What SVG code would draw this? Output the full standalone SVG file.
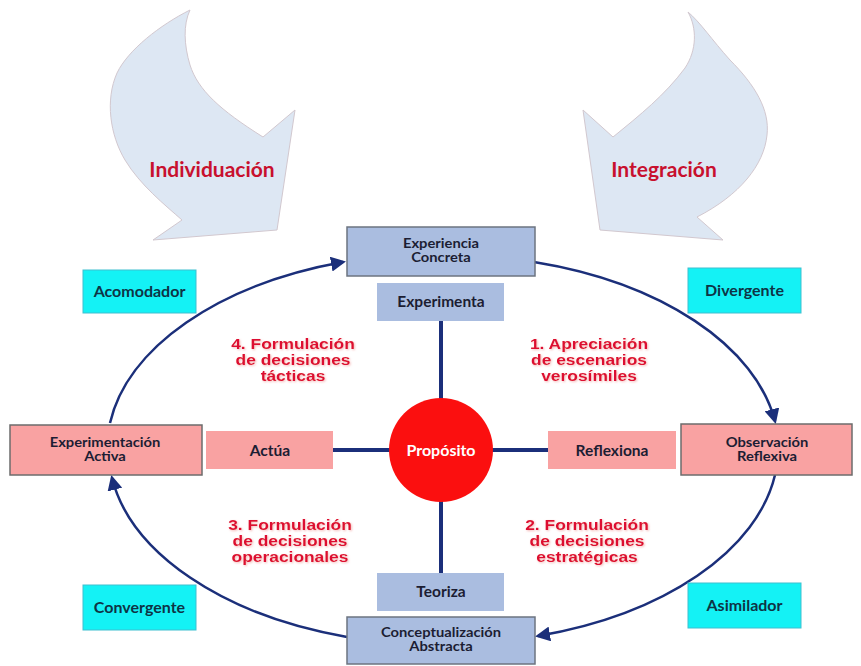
<svg xmlns="http://www.w3.org/2000/svg" width="861" height="666" viewBox="0 0 861 666">
  <defs>
    <marker id="arrowhead" viewBox="0 0 10 10" refX="8" refY="5" markerWidth="6" markerHeight="6" markerUnits="strokeWidth" orient="auto">
      <path d="M0,0 L10,5 L0,10 Z" fill="#1b2f7a"/>
    </marker>
    <filter id="soft" x="-10%" y="-20%" width="120%" height="140%">
      <feGaussianBlur in="SourceAlpha" stdDeviation="0.8" result="b"/>
      <feOffset dx="0.6" dy="0.6" result="o"/>
      <feFlood flood-color="#e88" flood-opacity="0.6"/>
      <feComposite in2="o" operator="in" result="s"/>
      <feMerge><feMergeNode in="s"/><feMergeNode in="SourceGraphic"/></feMerge>
    </filter>
  </defs>
  <style>
    .bigarrow { fill: #dde7f3; stroke: #d2c8cf; stroke-width: 1; }
    .phase { fill: #aabde0; stroke: #6c7480; stroke-width: 1.5; }
    .verb { fill: #aabde0; }
    .actbox { fill: #f9a2a2; stroke: #6c6c6c; stroke-width: 1.5; }
    .actverb { fill: #f9a2a2; }
    .style { fill: #14f2f5; stroke: #3fbfcf; stroke-width: 1; }
    .lbl { font-family: Lato, "Open Sans", sans-serif; font-weight: bold; font-size: 15.5px; text-anchor: middle; fill: #1c1d33; }
    .lbl2 { font-family: Lato, "Open Sans", sans-serif; font-weight: bold; font-size: 12.5px; text-anchor: middle; fill: #1c1d33; }
    .lblstyle { font-family: Lato, "Open Sans", sans-serif; font-weight: bold; font-size: 16px; text-anchor: middle; fill: #0e3445; }
    .center { font-family: Lato, "Open Sans", sans-serif; font-weight: bold; font-size: 16px; text-anchor: middle; fill: #ffffff; }
    .flow { font-family: Lato, "Open Sans", sans-serif; font-weight: bold; font-size: 21px; text-anchor: middle; fill: #c8102e; }
    .step { font-family: "Liberation Sans", Arial, sans-serif; font-weight: bold; font-size: 14.5px; text-anchor: middle; fill: #dd1030; }
    .cycle { fill: none; stroke: #1b2f7a; stroke-width: 2.5; }
    .spoke { stroke: #1b2f7a; stroke-width: 4; }
  </style>

  <!-- curved block arrows -->
  <g id="individuacion">
    <path class="bigarrow" d="M190,10 C183,25 184,45 190,65 C198,90 220,110 263,137 L295,110 L277,230 L153,240 L182,220 C165,205 140,185 125,160 C110,135 105,100 117,73 C128,50 160,25 190,10 Z"/>
    <text class="flow" x="212" y="177">Individuación</text>
  </g>
  <g id="integracion">
    <path class="bigarrow" d="M688,12 C700,22 712,40 730,60 C755,85 770,110 767,135 C764,165 740,195 697,217 L723,240 L600,230 L583,110 L613,137 C640,115 665,95 685,68 C697,50 697,28 688,12 Z"/>
    <text class="flow" x="664" y="177">Integración</text>
  </g>

  <!-- learning cycle and cross -->
  <g id="connectors">
    <path class="cycle" d="M110,423 A334,196 0 0 1 343,262" marker-end="url(#arrowhead)"/>
    <path class="cycle" d="M534,262 A334,196 0 0 1 775,421" marker-end="url(#arrowhead)"/>
    <path class="cycle" d="M775,475 A334,196 0 0 1 538,636" marker-end="url(#arrowhead)"/>
    <path class="cycle" d="M347,637 A334,196 0 0 1 112,478" marker-end="url(#arrowhead)"/>
    <line class="spoke" x1="441" y1="321" x2="441" y2="573"/>
    <line class="spoke" x1="333" y1="450" x2="548" y2="450"/>
  </g>

  <g id="proposito">
    <circle cx="441" cy="450" r="52" fill="#fb0f0f"/>
    <text class="center" x="441" y="456">Propósito</text>
  </g>

  <!-- cycle phases (two-line labels, widened horizontally) -->
  <g id="experiencia-concreta">
    <rect class="phase" x="347" y="227" width="188" height="49"/>
    <g transform="translate(441 0) scale(1.18 1)">
      <text class="lbl2" x="0" y="248">Experiencia</text>
      <text class="lbl2" x="0" y="262">Concreta</text>
    </g>
  </g>
  <g id="observacion-reflexiva">
    <rect class="actbox" x="681" y="424" width="171" height="51"/>
    <g transform="translate(767 0) scale(1.18 1)">
      <text class="lbl2" x="0" y="447">Observación</text>
      <text class="lbl2" x="0" y="461">Reflexiva</text>
    </g>
  </g>
  <g id="conceptualizacion-abstracta">
    <rect class="phase" x="347" y="617" width="188" height="47"/>
    <g transform="translate(441 0) scale(1.18 1)">
      <text class="lbl2" x="0" y="637">Conceptualización</text>
      <text class="lbl2" x="0" y="651">Abstracta</text>
    </g>
  </g>
  <g id="experimentacion-activa">
    <rect class="actbox" x="10" y="425" width="192" height="50"/>
    <g transform="translate(105 0) scale(1.18 1)">
      <text class="lbl2" x="0" y="447">Experimentación</text>
      <text class="lbl2" x="0" y="461">Activa</text>
    </g>
  </g>

  <!-- verbs on the cross -->
  <g id="experimenta">
    <rect class="verb" x="377" y="283" width="127" height="38"/>
    <text class="lbl" x="441" y="307">Experimenta</text>
  </g>
  <g id="teoriza">
    <rect class="verb" x="377" y="573" width="127" height="38"/>
    <text class="lbl" x="441" y="597">Teoriza</text>
  </g>
  <g id="actua">
    <rect class="actverb" x="206" y="431" width="127" height="38"/>
    <text class="lbl" x="270" y="456">Actúa</text>
  </g>
  <g id="reflexiona">
    <rect class="actverb" x="548" y="431" width="128" height="38"/>
    <text class="lbl" x="612" y="456">Reflexiona</text>
  </g>

  <!-- learning styles -->
  <g id="acomodador">
    <rect class="style" x="83" y="270" width="113" height="43"/>
    <text class="lblstyle" x="139.5" y="297">Acomodador</text>
  </g>
  <g id="divergente">
    <rect class="style" x="688" y="268" width="113" height="45"/>
    <text class="lblstyle" x="744.5" y="296">Divergente</text>
  </g>
  <g id="convergente">
    <rect class="style" x="83" y="585" width="113" height="45"/>
    <text class="lblstyle" x="139.5" y="613">Convergente</text>
  </g>
  <g id="asimilador">
    <rect class="style" x="688" y="583" width="113" height="45"/>
    <text class="lblstyle" x="744.5" y="611">Asimilador</text>
  </g>

  <!-- decision steps (widened horizontally) -->
  <g id="paso-1" filter="url(#soft)">
    <g transform="translate(589 0) scale(1.2 1)">
      <text class="step" x="0" y="349">1. Apreciación</text>
      <text class="step" x="0" y="365">de escenarios</text>
      <text class="step" x="0" y="381">verosímiles</text>
    </g>
  </g>
  <g id="paso-2" filter="url(#soft)">
    <g transform="translate(587 0) scale(1.2 1)">
      <text class="step" x="0" y="530">2. Formulación</text>
      <text class="step" x="0" y="546">de decisiones</text>
      <text class="step" x="0" y="562">estratégicas</text>
    </g>
  </g>
  <g id="paso-3" filter="url(#soft)">
    <g transform="translate(290 0) scale(1.2 1)">
      <text class="step" x="0" y="530">3. Formulación</text>
      <text class="step" x="0" y="546">de decisiones</text>
      <text class="step" x="0" y="562">operacionales</text>
    </g>
  </g>
  <g id="paso-4" filter="url(#soft)">
    <g transform="translate(293 0) scale(1.2 1)">
      <text class="step" x="0" y="349">4. Formulación</text>
      <text class="step" x="0" y="365">de decisiones</text>
      <text class="step" x="0" y="381">tácticas</text>
    </g>
  </g>
</svg>
